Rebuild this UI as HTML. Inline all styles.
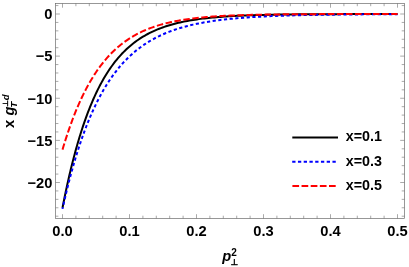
<!DOCTYPE html>
<html><head><meta charset="utf-8"><title>plot</title>
<style>html,body{margin:0;padding:0;background:#fff}svg{display:block;will-change:transform}</style></head>
<body>
<svg width="409" height="267" viewBox="0 0 409 267">
<rect width="409" height="267" fill="#fff"/>
<g fill="none" stroke-width="2" stroke-linejoin="round">
<path d="M62.50,207.78 L62.57,207.42 L62.71,206.69 L62.90,205.70 L63.14,204.49 L63.42,203.10 L63.73,201.55 L64.07,199.84 L64.44,198.00 L64.85,196.03 L65.28,193.96 L65.73,191.78 L66.22,189.50 L66.72,187.14 L67.26,184.71 L67.81,182.20 L68.39,179.63 L68.99,177.00 L69.61,174.33 L70.25,171.61 L70.91,168.84 L71.60,166.05 L72.30,163.23 L73.02,160.38 L73.77,157.52 L74.53,154.64 L75.30,151.75 L76.10,148.85 L76.92,145.96 L77.75,143.06 L78.60,140.17 L79.47,137.29 L80.35,134.42 L81.25,131.56 L82.17,128.72 L83.10,125.90 L84.05,123.10 L85.02,120.33 L86.00,117.58 L87.00,114.87 L88.01,112.18 L89.04,109.53 L90.08,106.91 L91.14,104.33 L92.21,101.78 L93.30,99.27 L94.40,96.80 L95.52,94.37 L96.65,91.99 L97.79,89.64 L98.95,87.34 L100.13,85.08 L101.32,82.87 L102.52,80.70 L103.73,78.57 L104.96,76.49 L106.20,74.46 L107.46,72.47 L108.73,70.52 L110.01,68.63 L111.30,66.77 L112.61,64.97 L113.93,63.20 L115.26,61.48 L116.61,59.81 L117.97,58.18 L119.34,56.59 L120.73,55.05 L122.12,53.55 L123.53,52.09 L124.95,50.68 L126.39,49.30 L127.83,47.97 L129.29,46.67 L130.76,45.42 L132.24,44.20 L133.74,43.02 L135.24,41.88 L136.76,40.78 L138.29,39.71 L139.83,38.67 L141.38,37.67 L142.94,36.71 L144.52,35.77 L146.11,34.87 L147.71,34.00 L149.31,33.16 L150.94,32.35 L152.57,31.57 L154.21,30.82 L155.87,30.09 L157.53,29.39 L159.21,28.72 L160.89,28.07 L162.59,27.45 L164.30,26.85 L166.02,26.28 L167.75,25.72 L169.49,25.19 L171.25,24.68 L173.01,24.19 L174.78,23.72 L176.57,23.27 L178.36,22.84 L180.17,22.42 L181.98,22.02 L183.81,21.64 L185.64,21.28 L187.49,20.93 L189.35,20.59 L191.21,20.27 L193.09,19.97 L194.98,19.67 L196.88,19.39 L198.78,19.13 L200.70,18.87 L202.63,18.63 L204.57,18.39 L206.52,18.17 L208.47,17.96 L210.44,17.76 L212.42,17.56 L214.41,17.38 L216.40,17.21 L218.41,17.04 L220.43,16.88 L222.45,16.73 L224.49,16.58 L226.53,16.45 L228.59,16.32 L230.65,16.19 L232.73,16.07 L234.81,15.96 L236.91,15.86 L239.01,15.75 L241.12,15.66 L243.24,15.57 L245.37,15.48 L247.51,15.40 L249.66,15.32 L251.82,15.25 L253.99,15.18 L256.17,15.11 L258.35,15.05 L260.55,14.99 L262.76,14.93 L264.97,14.88 L267.19,14.83 L269.43,14.78 L271.67,14.73 L273.92,14.69 L276.18,14.65 L278.45,14.61 L280.72,14.58 L283.01,14.54 L285.31,14.51 L287.61,14.48 L289.92,14.45 L292.25,14.42 L294.58,14.40 L296.92,14.37 L299.27,14.35 L301.62,14.33 L303.99,14.31 L306.36,14.29 L308.75,14.27 L311.14,14.26 L313.54,14.24 L315.95,14.23 L318.37,14.21 L320.79,14.20 L323.23,14.19 L325.67,14.17 L328.13,14.16 L330.59,14.15 L333.06,14.14 L335.53,14.13 L338.02,14.13 L340.52,14.12 L343.02,14.11 L345.53,14.10 L348.05,14.10 L350.58,14.09 L353.12,14.08 L355.66,14.08 L358.21,14.07 L360.78,14.07 L363.35,14.06 L365.92,14.06 L368.51,14.06 L371.10,14.05 L373.71,14.05 L376.32,14.05 L378.94,14.04 L381.57,14.04 L384.20,14.04 L386.84,14.03 L389.50,14.03 L392.16,14.03 L394.82,14.03 L397.50,14.03" stroke="#000"/>
<path d="M62.50,208.87 L62.57,208.55 L62.71,207.91 L62.90,207.04 L63.14,205.99 L63.42,204.76 L63.73,203.39 L64.07,201.88 L64.44,200.26 L64.85,198.52 L65.28,196.68 L65.73,194.75 L66.22,192.74 L66.72,190.64 L67.26,188.48 L67.81,186.24 L68.39,183.95 L68.99,181.60 L69.61,179.21 L70.25,176.77 L70.91,174.29 L71.60,171.77 L72.30,169.23 L73.02,166.65 L73.77,164.06 L74.53,161.45 L75.30,158.82 L76.10,156.18 L76.92,153.53 L77.75,150.88 L78.60,148.23 L79.47,145.57 L80.35,142.92 L81.25,140.28 L82.17,137.64 L83.10,135.02 L84.05,132.41 L85.02,129.82 L86.00,127.24 L87.00,124.68 L88.01,122.14 L89.04,119.63 L90.08,117.14 L91.14,114.68 L92.21,112.24 L93.30,109.83 L94.40,107.46 L95.52,105.11 L96.65,102.79 L97.79,100.51 L98.95,98.26 L100.13,96.04 L101.32,93.86 L102.52,91.72 L103.73,89.61 L104.96,87.54 L106.20,85.50 L107.46,83.50 L108.73,81.54 L110.01,79.61 L111.30,77.73 L112.61,75.88 L113.93,74.07 L115.26,72.29 L116.61,70.56 L117.97,68.86 L119.34,67.20 L120.73,65.58 L122.12,63.99 L123.53,62.44 L124.95,60.93 L126.39,59.45 L127.83,58.01 L129.29,56.61 L130.76,55.24 L132.24,53.90 L133.74,52.60 L135.24,51.33 L136.76,50.10 L138.29,48.90 L139.83,47.73 L141.38,46.60 L142.94,45.49 L144.52,44.42 L146.11,43.38 L147.71,42.36 L149.31,41.38 L150.94,40.42 L152.57,39.50 L154.21,38.60 L155.87,37.72 L157.53,36.88 L159.21,36.06 L160.89,35.26 L162.59,34.49 L164.30,33.74 L166.02,33.02 L167.75,32.32 L169.49,31.64 L171.25,30.99 L173.01,30.35 L174.78,29.74 L176.57,29.15 L178.36,28.58 L180.17,28.02 L181.98,27.49 L183.81,26.97 L185.64,26.47 L187.49,25.99 L189.35,25.52 L191.21,25.07 L193.09,24.64 L194.98,24.22 L196.88,23.82 L198.78,23.43 L200.70,23.06 L202.63,22.69 L204.57,22.35 L206.52,22.01 L208.47,21.69 L210.44,21.38 L212.42,21.08 L214.41,20.79 L216.40,20.51 L218.41,20.24 L220.43,19.99 L222.45,19.74 L224.49,19.50 L226.53,19.27 L228.59,19.05 L230.65,18.84 L232.73,18.64 L234.81,18.45 L236.91,18.26 L239.01,18.08 L241.12,17.90 L243.24,17.74 L245.37,17.58 L247.51,17.43 L249.66,17.28 L251.82,17.14 L253.99,17.00 L256.17,16.87 L258.35,16.75 L260.55,16.63 L262.76,16.52 L264.97,16.41 L267.19,16.30 L269.43,16.20 L271.67,16.10 L273.92,16.01 L276.18,15.92 L278.45,15.84 L280.72,15.76 L283.01,15.68 L285.31,15.60 L287.61,15.53 L289.92,15.46 L292.25,15.40 L294.58,15.33 L296.92,15.27 L299.27,15.22 L301.62,15.16 L303.99,15.11 L306.36,15.06 L308.75,15.01 L311.14,14.97 L313.54,14.92 L315.95,14.88 L318.37,14.84 L320.79,14.80 L323.23,14.76 L325.67,14.73 L328.13,14.70 L330.59,14.66 L333.06,14.63 L335.53,14.60 L338.02,14.58 L340.52,14.55 L343.02,14.52 L345.53,14.50 L348.05,14.48 L350.58,14.45 L353.12,14.43 L355.66,14.41 L358.21,14.39 L360.78,14.38 L363.35,14.36 L365.92,14.34 L368.51,14.33 L371.10,14.31 L373.71,14.30 L376.32,14.28 L378.94,14.27 L381.57,14.26 L384.20,14.24 L386.84,14.23 L389.50,14.22 L392.16,14.21 L394.82,14.20 L397.50,14.19" stroke="#0000ff" stroke-dasharray="3.2 2.5" stroke-dashoffset="1.5"/>
<path d="M62.50,149.64 L62.57,149.41 L62.71,148.93 L62.90,148.28 L63.14,147.49 L63.42,146.58 L63.73,145.56 L64.07,144.44 L64.44,143.23 L64.85,141.93 L65.28,140.57 L65.73,139.13 L66.22,137.63 L66.72,136.07 L67.26,134.46 L67.81,132.79 L68.39,131.09 L68.99,129.34 L69.61,127.56 L70.25,125.75 L70.91,123.91 L71.60,122.04 L72.30,120.15 L73.02,118.24 L73.77,116.31 L74.53,114.38 L75.30,112.43 L76.10,110.47 L76.92,108.51 L77.75,106.55 L78.60,104.59 L79.47,102.63 L80.35,100.67 L81.25,98.72 L82.17,96.78 L83.10,94.85 L84.05,92.92 L85.02,91.02 L86.00,89.12 L87.00,87.25 L88.01,85.39 L89.04,83.55 L90.08,81.73 L91.14,79.93 L92.21,78.15 L93.30,76.39 L94.40,74.66 L95.52,72.96 L96.65,71.28 L97.79,69.62 L98.95,68.00 L100.13,66.40 L101.32,64.83 L102.52,63.28 L103.73,61.77 L104.96,60.29 L106.20,58.83 L107.46,57.40 L108.73,56.01 L110.01,54.64 L111.30,53.30 L112.61,52.00 L113.93,50.72 L115.26,49.47 L116.61,48.26 L117.97,47.07 L119.34,45.91 L120.73,44.78 L122.12,43.69 L123.53,42.62 L124.95,41.57 L126.39,40.56 L127.83,39.58 L129.29,38.62 L130.76,37.69 L132.24,36.79 L133.74,35.91 L135.24,35.06 L136.76,34.24 L138.29,33.44 L139.83,32.66 L141.38,31.92 L142.94,31.19 L144.52,30.49 L146.11,29.81 L147.71,29.15 L149.31,28.52 L150.94,27.91 L152.57,27.32 L154.21,26.75 L155.87,26.20 L157.53,25.67 L159.21,25.16 L160.89,24.66 L162.59,24.19 L164.30,23.73 L166.02,23.29 L167.75,22.87 L169.49,22.47 L171.25,22.08 L173.01,21.70 L174.78,21.34 L176.57,20.99 L178.36,20.66 L180.17,20.34 L181.98,20.04 L183.81,19.75 L185.64,19.47 L187.49,19.20 L189.35,18.94 L191.21,18.70 L193.09,18.46 L194.98,18.24 L196.88,18.02 L198.78,17.82 L200.70,17.62 L202.63,17.43 L204.57,17.25 L206.52,17.08 L208.47,16.92 L210.44,16.77 L212.42,16.62 L214.41,16.48 L216.40,16.35 L218.41,16.22 L220.43,16.10 L222.45,15.98 L224.49,15.87 L226.53,15.77 L228.59,15.67 L230.65,15.57 L232.73,15.49 L234.81,15.40 L236.91,15.32 L239.01,15.24 L241.12,15.17 L243.24,15.10 L245.37,15.04 L247.51,14.98 L249.66,14.92 L251.82,14.87 L253.99,14.81 L256.17,14.76 L258.35,14.72 L260.55,14.67 L262.76,14.63 L264.97,14.59 L267.19,14.56 L269.43,14.52 L271.67,14.49 L273.92,14.46 L276.18,14.43 L278.45,14.40 L280.72,14.38 L283.01,14.35 L285.31,14.33 L287.61,14.31 L289.92,14.29 L292.25,14.27 L294.58,14.25 L296.92,14.24 L299.27,14.22 L301.62,14.20 L303.99,14.19 L306.36,14.18 L308.75,14.17 L311.14,14.15 L313.54,14.14 L315.95,14.13 L318.37,14.12 L320.79,14.12 L323.23,14.11 L325.67,14.10 L328.13,14.09 L330.59,14.09 L333.06,14.08 L335.53,14.07 L338.02,14.07 L340.52,14.06 L343.02,14.06 L345.53,14.06 L348.05,14.05 L350.58,14.05 L353.12,14.04 L355.66,14.04 L358.21,14.04 L360.78,14.03 L363.35,14.03 L365.92,14.03 L368.51,14.03 L371.10,14.03 L373.71,14.02 L376.32,14.02 L378.94,14.02 L381.57,14.02 L384.20,14.02 L386.84,14.02 L389.50,14.01 L392.16,14.01 L394.82,14.01 L397.50,14.01" stroke="#ff0000" stroke-dasharray="6.5 2.55" stroke-dashoffset="0.1"/>
</g>
<path d="M62.50,218.5v-4.3M62.50,3.4v4.3M75.90,218.5v-2.8M75.90,3.4v2.8M89.30,218.5v-2.8M89.30,3.4v2.8M102.70,218.5v-2.8M102.70,3.4v2.8M116.10,218.5v-2.8M116.10,3.4v2.8M129.50,218.5v-4.3M129.50,3.4v4.3M142.90,218.5v-2.8M142.90,3.4v2.8M156.30,218.5v-2.8M156.30,3.4v2.8M169.70,218.5v-2.8M169.70,3.4v2.8M183.10,218.5v-2.8M183.10,3.4v2.8M196.50,218.5v-4.3M196.50,3.4v4.3M209.90,218.5v-2.8M209.90,3.4v2.8M223.30,218.5v-2.8M223.30,3.4v2.8M236.70,218.5v-2.8M236.70,3.4v2.8M250.10,218.5v-2.8M250.10,3.4v2.8M263.50,218.5v-4.3M263.50,3.4v4.3M276.90,218.5v-2.8M276.90,3.4v2.8M290.30,218.5v-2.8M290.30,3.4v2.8M303.70,218.5v-2.8M303.70,3.4v2.8M317.10,218.5v-2.8M317.10,3.4v2.8M330.50,218.5v-4.3M330.50,3.4v4.3M343.90,218.5v-2.8M343.90,3.4v2.8M357.30,218.5v-2.8M357.30,3.4v2.8M370.70,218.5v-2.8M370.70,3.4v2.8M384.10,218.5v-2.8M384.10,3.4v2.8M397.50,218.5v-4.3M397.50,3.4v4.3M55.6,216.20h2.8M404.5,216.20h-2.8M55.6,207.78h2.8M404.5,207.78h-2.8M55.6,199.35h2.8M404.5,199.35h-2.8M55.6,190.93h2.8M404.5,190.93h-2.8M55.6,182.50h4.3M404.5,182.50h-4.3M55.6,174.08h2.8M404.5,174.08h-2.8M55.6,165.65h2.8M404.5,165.65h-2.8M55.6,157.23h2.8M404.5,157.23h-2.8M55.6,148.80h2.8M404.5,148.80h-2.8M55.6,140.38h4.3M404.5,140.38h-4.3M55.6,131.95h2.8M404.5,131.95h-2.8M55.6,123.53h2.8M404.5,123.53h-2.8M55.6,115.10h2.8M404.5,115.10h-2.8M55.6,106.68h2.8M404.5,106.68h-2.8M55.6,98.25h4.3M404.5,98.25h-4.3M55.6,89.83h2.8M404.5,89.83h-2.8M55.6,81.40h2.8M404.5,81.40h-2.8M55.6,72.98h2.8M404.5,72.98h-2.8M55.6,64.55h2.8M404.5,64.55h-2.8M55.6,56.12h4.3M404.5,56.12h-4.3M55.6,47.70h2.8M404.5,47.70h-2.8M55.6,39.28h2.8M404.5,39.28h-2.8M55.6,30.85h2.8M404.5,30.85h-2.8M55.6,22.43h2.8M404.5,22.43h-2.8M55.6,14.00h4.3M404.5,14.00h-4.3M55.6,5.57h2.8M404.5,5.57h-2.8" stroke="#858585" stroke-width="0.7" fill="none"/>
<rect x="55.6" y="3.4" width="348.9" height="215.1" fill="none" stroke="#6c6c6c" stroke-width="0.7"/>
<g font-family="'Liberation Sans', sans-serif" font-weight="bold" font-size="14.7px" fill="#000">
<text x="62.50" y="236.1" text-anchor="middle">0.0</text>
<text x="129.50" y="236.1" text-anchor="middle">0.1</text>
<text x="196.50" y="236.1" text-anchor="middle">0.2</text>
<text x="263.50" y="236.1" text-anchor="middle">0.3</text>
<text x="330.50" y="236.1" text-anchor="middle">0.4</text>
<text x="397.50" y="236.1" text-anchor="middle">0.5</text>
<text x="52.4" y="19.25" text-anchor="end">0</text>
<text x="52.4" y="61.38" text-anchor="end">−5</text>
<text x="52.4" y="103.50" text-anchor="end">−10</text>
<text x="52.4" y="145.62" text-anchor="end">−15</text>
<text x="52.4" y="187.75" text-anchor="end">−20</text>
<text x="345.7" y="141.40" font-size="14.3px">x=0.1</text>
<text x="345.7" y="165.50" font-size="14.3px">x=0.3</text>
<text x="345.7" y="190.10" font-size="14.3px">x=0.5</text>
<text x="222.3" y="261.1" font-style="italic">p</text>
<text x="231.3" y="255.5" font-size="10px">2</text>
<text x="230.5" y="264.8" font-size="8.2px" stroke="#000" stroke-width="0.35" font-family="'DejaVu Sans', sans-serif">⊥</text>
<g transform="translate(14.2,128) rotate(-90)">
<text x="0" y="0">x</text>
<text x="12.5" y="0" font-style="italic">g</text>
<text x="20.3" y="3.2" font-size="9.8px" font-style="italic">T</text>
<text x="21.3" y="-5.8" font-size="7.3px" stroke="#000" stroke-width="0.3" font-family="'DejaVu Sans', sans-serif">⊥</text>
<text x="27.8" y="-5.4" font-size="9.5px" font-style="italic">d</text>
</g>
</g>
<g fill="none" stroke-width="2">
<path d="M292.3,137.6H338" stroke="#000"/>
<path d="M292.2,161.7H336.2" stroke="#0000ff" stroke-dasharray="3.3 2.45"/>
<path d="M292.4,186H336" stroke="#ff0000" stroke-dasharray="6.7 2.45"/>
</g>
</svg>
</body></html>
